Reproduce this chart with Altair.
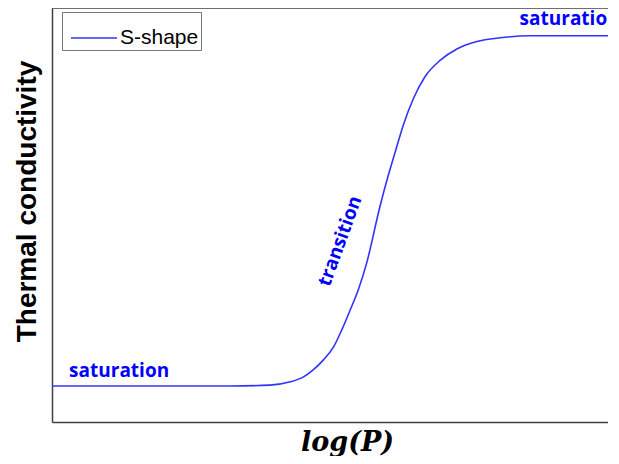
import altair as alt
import pandas as pd

# S-shaped curve (arbitrary units)
log_p = [0.0, 1.72, 3.12, 3.82, 4.18, 4.41, 4.58, 4.76, 4.94, 5.08, 5.23,
         5.37, 5.52, 5.75, 5.90, 6.02, 6.16, 6.34, 6.54, 6.81, 7.10, 7.45,
         7.86, 8.39, 9.8]
conductivity = [0.087, 0.087, 0.087, 0.089, 0.097, 0.109, 0.126, 0.150, 0.182,
                0.222, 0.271, 0.319, 0.385, 0.520, 0.597, 0.653, 0.717, 0.782,
                0.834, 0.874, 0.901, 0.919, 0.928, 0.933, 0.933]
series_name = ["S-shape"] * len(log_p)

# annotations
sat_x = [0.30, 8.2]
sat_y = [0.109, 0.959]
sat_label = ["saturation", "saturation"]
trans_x = [5.05]
trans_y = [0.437]
trans_label = ["transition"]

# frame extent (domain limits)
x_min, x_max = 0, 9.75
y_min, y_max = 0, 1

curve = pd.DataFrame({"logP": log_p, "k": conductivity, "series": series_name})
sat = pd.DataFrame({"logP": sat_x, "k": sat_y, "label": sat_label})
trans = pd.DataFrame({"logP": trans_x, "k": trans_y, "label": trans_label})

xscale = alt.Scale(domain=[x_min, x_max], nice=False, zero=False)
yscale = alt.Scale(domain=[y_min, y_max], nice=False, zero=False)

x_enc = alt.X("logP:Q", scale=xscale,
              axis=alt.Axis(title="log(P)", ticks=False, labels=False, grid=False,
                            domain=True, domainColor="#404040", domainWidth=1.5,
                            titleFont="DejaVu Serif", titleFontSize=27,
                            titleFontWeight="bold", titleFontStyle="italic",
                            titleColor="black", titleX=295, titleY=28,
                            titleBaseline="alphabetic", titleAlign="center"))
y_enc = alt.Y("k:Q", scale=yscale,
              axis=alt.Axis(title="Thermal conductivity", ticks=False, labels=False,
                            grid=False, domain=True, domainColor="#404040",
                            domainWidth=1.5, titleFont="Liberation Sans",
                            titleFontSize=28, titleFontWeight="bold",
                            titleColor="black", titleAngle=270, titleX=-17,
                            titleY=193, titleBaseline="alphabetic",
                            titleAlign="center"))

line = alt.Chart(curve).mark_line(strokeWidth=1.6, interpolate="monotone",
                                  clip=True).encode(
    x=x_enc,
    y=y_enc,
    color=alt.Color("series:N",
                    scale=alt.Scale(domain=["S-shape"], range=["#3333ff"]),
                    legend=alt.Legend(title=None, orient="none", legendX=10,
                                      legendY=4, symbolType="stroke",
                                      symbolSize=2116, symbolStrokeWidth=1.5,
                                      symbolOffset=6, labelFont="Liberation Sans",
                                      labelFontSize=21, labelColor="black",
                                      labelOffset=2, padding=2,
                                      strokeColor="#777777", fillColor="white")),
)

top_border = alt.Chart(pd.DataFrame({"x0": [x_min], "x1": [x_max], "y": [y_max]})).mark_rule(
    color="#404040", strokeWidth=1.5).encode(
    x=alt.X("x0:Q", scale=xscale), x2="x1:Q", y=alt.Y("y:Q", scale=yscale))

sat_text = alt.Chart(sat).mark_text(align="left", baseline="alphabetic",
                                     font="Open Sans", fontSize=19,
                                     fontWeight="bold", color="#0000ff").encode(
    x=alt.X("logP:Q", scale=xscale), y=alt.Y("k:Q", scale=yscale), text="label:N")

trans_text = alt.Chart(trans).mark_text(align="center", baseline="middle",
                                         font="Open Sans", fontSize=19,
                                         fontWeight="bold",
                                         angle=290, color="#0000ff").encode(
    x=alt.X("logP:Q", scale=xscale), y=alt.Y("k:Q", scale=yscale), text="label:N")

chart = alt.layer(line, top_border, sat_text, trans_text).properties(
    width=556, height=414,
    background="white",
    autosize=alt.AutoSizeParams(type="none"),
    padding={"left": 44, "top": 0, "right": 0, "bottom": 34},
).configure_view(stroke="transparent", strokeWidth=0)

chart.save("out.html", embed_options={"renderer": "svg", "actions": False})
